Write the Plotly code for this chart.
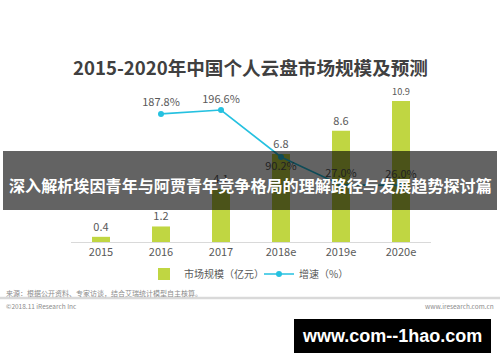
import plotly.graph_objects as go

categories = ["2015", "2016", "2017", "2018e", "2019e", "2020e"]
market_size = [0.4, 1.2, 4.1, 6.8, 8.6, 10.9]
growth_cats = ["2016", "2017", "2018e", "2019e", "2020e"]
growth = [187.8, 196.6, 90.2, 27.0, 26.0]
growth_text_pos = ["top center", "top center", "bottom center", "top center", "top center"]

W, H = 500, 362
L, R, T, B = 71, 431, 90, 242  # plot area in pixels


def px(x):
    return (x - L) / (R - L)


def py(y):
    return (B - y) / (B - T)


FONT = "Noto Sans CJK SC, Open Sans, sans-serif"
GRAY = "#595959"
GREEN = "#c0d642"
CYAN = "#25c1e0"

fig = go.Figure()
fig.add_trace(go.Bar(
    x=categories, y=market_size, name="市场规模（亿元）",
    marker=dict(color=GREEN, line=dict(width=0)),
    text=[f"{v:.1f}" for v in market_size], textposition="outside",
    textfont=dict(size=11, color=GRAY, family=FONT), cliponaxis=False,
))
fig.add_trace(go.Scatter(
    x=growth_cats, y=growth, name="增速（%）", yaxis="y2",
    mode="lines+markers+text",
    line=dict(color=CYAN, width=1.6), marker=dict(color=CYAN, size=6),
    text=[f"{v:.1f}%" for v in growth], textposition=growth_text_pos,
    textfont=dict(size=11, color=GRAY, family=FONT), cliponaxis=False,
))

y1max = (B - T) / 12.94
y2_per_px = 1 / 0.4417
y2max = 196.6 + (110 - T) * y2_per_px
y2min = 196.6 - (B - 110) * y2_per_px

shapes = [
    dict(type="line", xref="paper", yref="paper", x0=px(0), x1=px(500), y0=py(298), y1=py(298),
         line=dict(color="#d9d9d9", width=2.5)),
    dict(type="rect", xref="paper", yref="paper", x0=px(3), x1=px(497), y0=py(210), y1=py(151),
         fillcolor="rgba(0,0,0,0.61)", line=dict(width=0), layer="above"),
    dict(type="rect", xref="paper", yref="paper", x0=px(294), x1=px(491), y0=py(353), y1=py(319),
         fillcolor="#000000", line=dict(width=0), layer="above"),
]

annotations = [
    dict(text="<b>2015-2020年中国个人云盘市场规模及预测</b>", xref="paper", yref="paper",
         x=px(250), y=py(66), showarrow=False, font=dict(size=18.6, color="#404040", family=FONT),
         xanchor="center", yanchor="middle"),
    dict(text="<b>深入解析埃因青年与阿贾青年竞争格局的理解路径与发展趋势探讨篇</b>", xref="paper", yref="paper",
         x=px(250), y=py(185), showarrow=False, font=dict(size=16.1, color="#ffffff", family=FONT),
         xanchor="center", yanchor="middle"),
    dict(text="来源：根据公开资料、专家访谈，结合艾瑞统计模型自主核算。", xref="paper", yref="paper",
         x=px(4), y=py(293), showarrow=False, font=dict(size=7, color="#8c8c8c", family=FONT),
         xanchor="left", yanchor="middle"),
    dict(text="©2018.11 iResearch Inc", xref="paper", yref="paper",
         x=px(4), y=py(306), showarrow=False, font=dict(size=6.5, color="#8c8c8c", family=FONT),
         xanchor="left", yanchor="middle"),
    dict(text="www.iresearch.com.cn", xref="paper", yref="paper",
         x=px(496), y=py(306), showarrow=False, font=dict(size=6.5, color="#8c8c8c", family=FONT),
         xanchor="right", yanchor="middle"),
    dict(text="<b>www.com--1hao.com</b>", xref="paper", yref="paper",
         x=px(392), y=py(336), showarrow=False, font=dict(size=18, color="#ffffff", family="Liberation Sans, Arial"),
         xanchor="center", yanchor="middle"),
]

fig.update_layout(
    width=W, height=H, autosize=False,
    margin=dict(l=L, r=W - R, t=T, b=H - B, pad=0),
    paper_bgcolor="#ffffff", plot_bgcolor="#ffffff",
    bargap=0.7,
    font=dict(family=FONT, color=GRAY),
    xaxis=dict(type="category", range=[-0.5, 5.5], showgrid=False, zeroline=False,
               showline=True, linecolor="#d9d9d9", linewidth=1, ticks="",
               tickfont=dict(size=11, color=GRAY, family=FONT)),
    yaxis=dict(range=[0, y1max], visible=False, showgrid=False, zeroline=False),
    yaxis2=dict(range=[y2min, y2max], overlaying="y", side="right", visible=False,
                showgrid=False, zeroline=False),
    showlegend=True,
    legend=dict(orientation="h", x=px(259), xanchor="center", y=py(274), yanchor="middle",
                font=dict(size=10, color=GRAY, family=FONT), bgcolor="rgba(0,0,0,0)",
                itemwidth=30, traceorder="normal", entrywidth=70, entrywidthmode="pixels"),
    shapes=shapes, annotations=annotations,
)

fig.write_html("out.html", config={"displayModeBar": False},
               post_script="document.body.style.margin='0';")
